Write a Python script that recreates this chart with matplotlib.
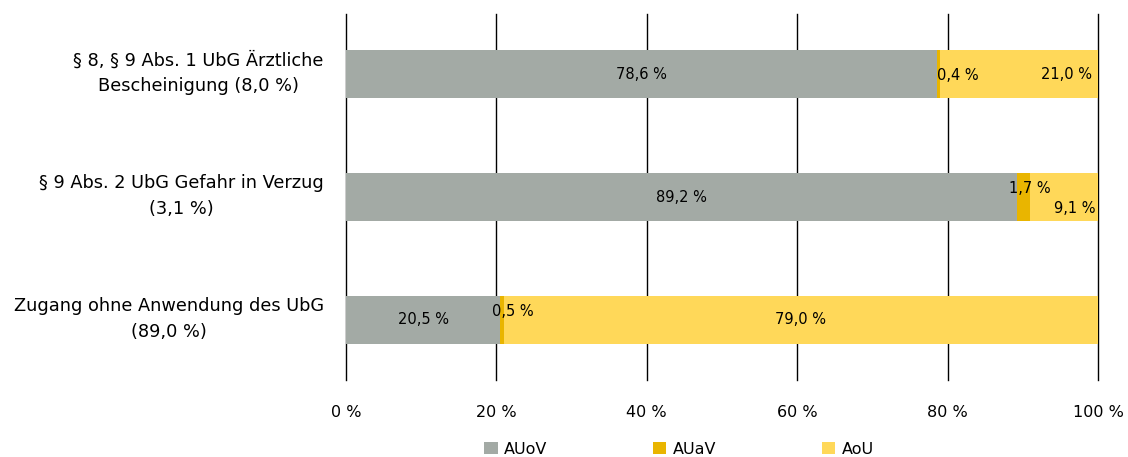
import matplotlib
matplotlib.use("Agg")
import matplotlib.pyplot as plt
from matplotlib.patches import Patch
from matplotlib.transforms import ScaledTranslation

categories = ["§ 8, § 9 Abs. 1 UbG Ärztliche\nBescheinigung (8,0 %)",
              "§ 9 Abs. 2 UbG Gefahr in Verzug\n(3,1 %)",
              "Zugang ohne Anwendung des UbG\n(89,0 %)"]
series_names = ["AUoV", "AUaV", "AoU"]
auov = [78.6, 89.2, 20.5]
auav = [0.4, 1.7, 0.5]
aou = [21.0, 9.1, 79.0]
xticks = [0, 20, 40, 60, 80, 100]
xticklabels = ["0 %", "20 %", "40 %", "60 %", "80 %", "100 %"]

colors = ["#A3AAA5", "#E9B500", "#FFD859"]
FONT = "DejaVu Sans"

fig = plt.figure(figsize=(11.28, 4.57), dpi=100)
ax = fig.add_axes([346/1128, 1-380/457, (1098-346)/1128, (380-14)/457])

ys = list(range(len(categories)))
h = 0.39

def fmt(v):
    return f"{v:.1f} %".replace(".", ",")

lefts = [0]*3
for vals, col in zip([auov, auav, aou], colors):
    ax.barh(ys, vals, left=lefts, height=h, color=col, zorder=2, linewidth=0)
    lefts = [l + v for l, v in zip(lefts, vals)]

fs = 10.5
for i in ys:
    a, b, c = auov[i], auav[i], aou[i]
    # AUoV centered
    ax.text(a/2, i, fmt(a), ha="center", va="center", fontsize=fs, zorder=3, family=FONT)
    # AoU
    if i == 2:
        ax.text(a + b + c/2, i, fmt(c), ha="center", va="center", fontsize=fs, zorder=3, family=FONT)
    elif i == 1:
        ax.annotate(fmt(c), (a + b + c, i), xytext=(-2, -8), textcoords="offset points",
                    ha="right", va="center", fontsize=fs, zorder=3, family=FONT)
    else:
        ax.annotate(fmt(c), (a + b + c, i), xytext=(-4, 0), textcoords="offset points",
                    ha="right", va="center", fontsize=fs, zorder=3, family=FONT)
    # AUaV
    if i == 0:
        ax.annotate(fmt(b), (a, i), xytext=(0, -1), textcoords="offset points",
                    ha="left", va="center", fontsize=fs, zorder=3, family=FONT)
    elif i == 1:
        ax.annotate(fmt(b), (a + b/2, i), xytext=(4.5, 6), textcoords="offset points",
                    ha="center", va="center", fontsize=fs, zorder=3, family=FONT)
    else:
        ax.annotate(fmt(b), (a, i), xytext=(-6, 6), textcoords="offset points",
                    ha="left", va="center", fontsize=fs, zorder=3, family=FONT)

ax.set_xlim(0, 100)
ax.set_ylim(len(categories) - 0.51, -0.49)
ax.set_xticks(xticks)
ax.set_xticklabels(xticklabels, fontsize=11.5, family=FONT)
ax.set_yticks(ys)
ax.set_yticklabels(categories, fontsize=12.8, family=FONT, multialignment="center", linespacing=1.55)
ax.tick_params(axis="both", length=0)
ax.tick_params(axis="x", pad=18)
ax.tick_params(axis="y", pad=16)
shift = ScaledTranslation(0, 7/100, fig.dpi_scale_trans)
for lbl in ax.get_yticklabels():
    lbl.set_transform(lbl.get_transform() + shift)
for s in ax.spines.values():
    s.set_visible(False)
ax.grid(axis="x", color="black", linewidth=1.0, zorder=0)
ax.set_axisbelow(True)
for gl in ax.xaxis.get_gridlines():
    gl.set_clip_on(False)

handles = [Patch(facecolor=c, edgecolor="none") for c in colors]
fig.legend(handles, series_names, loc="center", bbox_to_anchor=(679/1128, 1-449/457), ncol=3,
           frameon=False, handlelength=0.85, handleheight=0.85, handletextpad=0.4,
           columnspacing=6.6, prop={"family": FONT, "size": 11.5})

fig.savefig("out.png", dpi=100)
